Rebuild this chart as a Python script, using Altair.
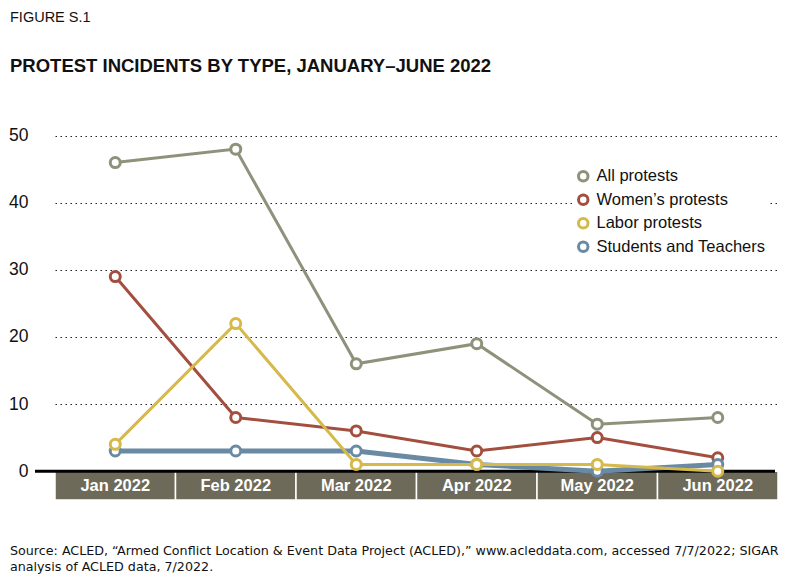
import altair as alt
import pandas as pd

months = ["Jan 2022", "Feb 2022", "Mar 2022", "Apr 2022", "May 2022", "Jun 2022"]
series = ["All protests", "Women’s protests", "Labor protests", "Students and Teachers"]
all_protests = [46, 48, 16, 19, 7, 8]
womens = [29, 8, 6, 3, 5, 2]
labor = [4, 22, 1, 1, 1, 0]
students = [3, 3, 3, 1, 0, 1]
colors = ["#8d927b", "#a34f3f", "#d6b94b", "#6a8aa4"]
y_ticks = [0, 10, 20, 30, 40, 50]
figure_label = "FIGURE S.1"
title = "PROTEST INCIDENTS BY TYPE, JANUARY–JUNE 2022"
source = ["Source: ACLED, “Armed Conflict Location & Event Data Project (ACLED),” www.acleddata.com, accessed 7/7/2022; SIGAR",
          "analysis of ACLED data, 7/2022."]

rows = []
for s, vals in zip(series, [all_protests, womens, labor, students]):
    for m, v in zip(months, vals):
        rows.append({"month": m, "series": s, "value": v})
df = pd.DataFrame(rows)

W, H = 738, 371
YMIN = -4.3
xscale = alt.Scale(domain=months, range=[15, W], paddingInner=0, paddingOuter=0)
yscale = alt.Scale(domain=[YMIN, 51], nice=False, zero=False)
cscale = alt.Scale(domain=series, range=colors)

SANS = "Liberation Sans, Arial, sans-serif"
WIDE = "DejaVu Sans, Verdana, sans-serif"

yaxis = alt.Axis(
    values=y_ticks, title=None, grid=True, gridDash=[1.5, 3.5], gridColor="#222",
    gridWidth=1, domain=False, ticks=False, labelPadding=12, labelFont=SANS,
    labelFontSize=17.5, labelColor="#111")

legend = alt.Legend(
    title=None, orient="none", legendX=533, legendY=37,
    symbolType="circle", symbolSize=90, symbolStrokeWidth=3, symbolFillColor="white",
    labelFont=SANS, labelFontSize=16.5, labelColor="#111", labelOffset=5, rowPadding=1.5,
    labelLimit=300, padding=2, fillColor="white",
)

band_df = pd.DataFrame({"month": months, "lo": [YMIN] * len(months), "hi": [0] * len(months),
                        "mid": [-2.2] * len(months)})

bands = alt.Chart(band_df).mark_rect(fill="#6d6a5a", stroke="white", strokeWidth=1.5).encode(
    x=alt.X("month:N", scale=xscale, axis=None, sort=months),
    y=alt.Y("lo:Q", scale=yscale, axis=yaxis),
    y2="hi:Q",
)
band_text = alt.Chart(band_df).mark_text(
    color="white", font=SANS, fontWeight="bold", fontSize=16.5, baseline="middle"
).encode(
    x=alt.X("month:N", scale=xscale, axis=None, sort=months),
    y=alt.Y("mid:Q", scale=yscale, axis=yaxis),
    text="month:N",
)

baseline = alt.Chart(band_df.head(1)).mark_rule(color="black", strokeWidth=3).encode(
    y=alt.Y("hi:Q", scale=yscale, axis=yaxis),
    x=alt.value(-5), x2=alt.value(W - 3),
)

layers = [bands, band_text, baseline]
for s, w in [(series[0], 3), (series[1], 3), (series[3], 5), (series[2], 3)]:
    b = alt.Chart(df).transform_filter(alt.datum.series == s).encode(
        x=alt.X("month:N", scale=xscale, axis=None, sort=months),
        y=alt.Y("value:Q", scale=yscale, axis=yaxis),
        color=alt.Color("series:N", scale=cscale, legend=legend),
    )
    layers.append(b.mark_line(strokeWidth=w))
    layers.append(b.mark_point(filled=False, fill="white", fillOpacity=1, size=100, strokeWidth=3, opacity=1))

t1 = alt.Chart(pd.DataFrame({"t": [figure_label]})).mark_text(
    align="left", baseline="alphabetic", font=SANS, fontSize=14.5, color="#111"
).encode(x=alt.value(-30), y=alt.value(-107), text="t:N")
t2 = alt.Chart(pd.DataFrame({"t": [title]})).mark_text(
    align="left", baseline="alphabetic", font=SANS, fontWeight="bold", fontSize=18.5, color="#111"
).encode(x=alt.value(-30), y=alt.value(-57), text="t:N")
t3 = alt.Chart(pd.DataFrame({"t": [source[0]]})).mark_text(
    align="left", baseline="alphabetic", font=WIDE, fontSize=12.7, color="#111"
).encode(x=alt.value(-30), y=alt.value(426), text="t:N")
t4 = alt.Chart(pd.DataFrame({"t": [source[1]]})).mark_text(
    align="left", baseline="alphabetic", font=WIDE, fontSize=12.7, color="#111"
).encode(x=alt.value(-30), y=alt.value(442), text="t:N")
layers += [t1, t2, t3, t4]

chart = alt.layer(*layers).properties(
    width=W, height=H,
    autosize=alt.AutoSizeParams(type="none"),
    padding={"left": 32, "top": 121, "right": 7, "bottom": 84},
    background="white",
).configure_view(stroke=None)

chart.save("out.html", embed_options={"renderer": "svg", "actions": False})
